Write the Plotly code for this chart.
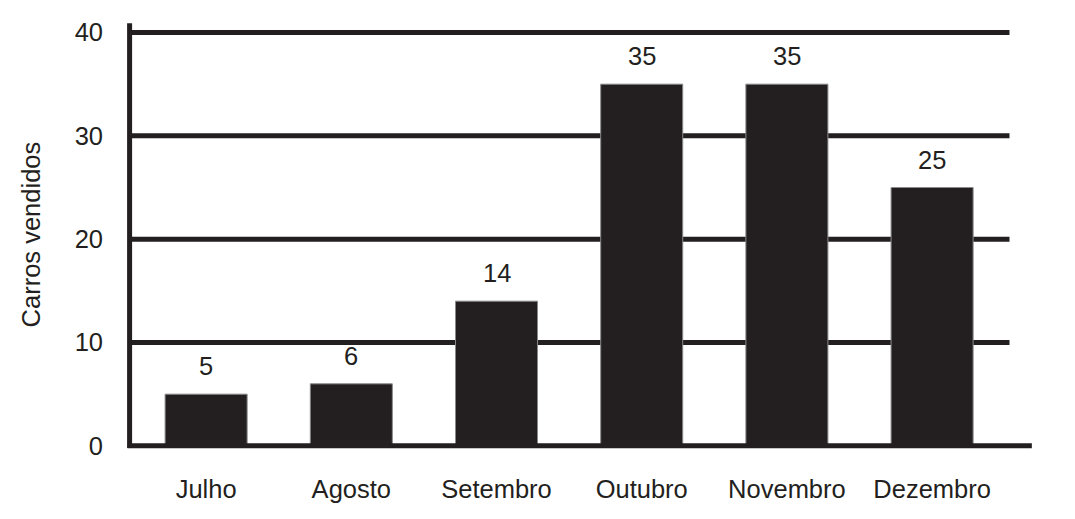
import plotly.graph_objects as go

# sales per month
meses = ['Julho', 'Agosto', 'Setembro', 'Outubro', 'Novembro', 'Dezembro']
carros = [5, 6, 14, 35, 35, 25]
y_ticks = [0, 10, 20, 30, 40]

ink = '#231f20'
fonte = dict(family='Liberation Sans, Arial, sans-serif', size=25.5, color=ink)

fig = go.Figure()
fig.add_trace(go.Bar(
    x=meses, y=carros,
    width=0.565,
    marker=dict(color=ink, line=dict(color='#8a8a8a', width=1)),
    hoverinfo='skip',
))

# value labels above the bars
for m, v in zip(meses, carros):
    fig.add_annotation(x=m, y=v, text=str(v), showarrow=False,
                       yanchor='bottom', yshift=12, font=fonte)

# horizontal rules at 10..40 (shorter than the bottom axis)
for t in y_ticks[1:]:
    fig.add_shape(type='line', xref='x', yref='y', x0=-0.527, x1=5.533, y0=t, y1=t,
                  line=dict(color=ink, width=5), layer='below')

# L-shaped axes
fig.add_shape(type='line', xref='x', yref='y', x0=-0.541, x1=5.687, y0=0, y1=0,
              line=dict(color=ink, width=5), layer='above')
fig.add_shape(type='line', xref='x', yref='y', x0=-0.527, x1=-0.527, y0=-0.2, y1=40.9,
              line=dict(color=ink, width=5), layer='above')

fig.add_annotation(xref='paper', yref='paper', x=-0.095, y=0.5, text='Carros vendidos',
                   textangle=-90, showarrow=False, font=fonte, xanchor='center')

# page body has an 8px margin, so the figure is 8px smaller and margins shifted
fig.update_layout(
    width=1067, height=511,
    margin=dict(l=111.4, r=34.2, t=8.5, b=67.5),
    paper_bgcolor='white', plot_bgcolor='white',
    showlegend=False,
    font=fonte,
)
fig.update_xaxes(range=[-0.6, 5.75], showgrid=False, showline=False, zeroline=False,
                 ticks='', ticklabelstandoff=20, tickfont=fonte)
fig.update_yaxes(range=[-0.5, 41.5], tickvals=y_ticks, showgrid=False, showline=False,
                 zeroline=False, ticks='', ticklabelstandoff=15, tickfont=fonte)

fig.write_html('out.html')
